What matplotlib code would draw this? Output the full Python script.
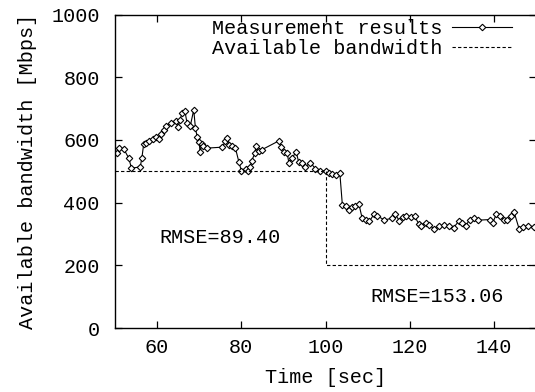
import numpy as np
import matplotlib
matplotlib.use("Agg")
import matplotlib.pyplot as plt

# measurement results (time [sec], bandwidth [Mbps])
t_meas = [50.4, 51.0, 52.1, 53.3, 53.9, 56.0, 56.4, 56.8, 57.4, 58.0,
          59.0, 59.8, 60.4, 61.0, 61.6, 62.0, 63.2, 64.4, 65.0, 65.4,
          66.0, 66.6, 67.1, 67.9, 68.7, 69.1, 69.5, 70.0, 70.2, 70.6,
          71.0, 71.8, 75.5, 76.2, 76.6, 77.0, 77.8, 78.6, 79.4, 80.0,
          81.0, 81.7, 82.1, 82.5, 83.2, 83.5, 84.1, 84.9, 88.9, 89.5,
          90.1, 90.9, 91.3, 92.1, 93.0, 93.6, 94.4, 95.2, 96.4, 97.6,
          98.8, 100.0, 100.8, 101.6, 102.4, 103.4, 104.0, 104.8, 105.5, 106.2,
          107.1, 107.9, 108.7, 109.6, 110.4, 111.5, 112.3, 114.0, 115.8, 116.5,
          117.5, 118.4, 119.2, 120.2, 121.2, 122.1, 122.6, 123.8, 124.6, 125.8,
          127.0, 128.2, 129.4, 130.4, 131.6, 132.5, 133.3, 134.2, 135.3, 136.1,
          139.1, 139.7, 140.6, 141.4, 142.3, 143.1, 144.1, 144.8, 146.0, 146.9,
          148.2, 149.4]
bw_meas = [558, 574, 571, 541, 510, 514, 544, 586, 590, 597,
           604, 609, 604, 619, 633, 645, 654, 662, 640, 665,
           686, 693, 654, 646, 696, 638, 611, 593, 560, 587,
           580, 574, 577, 596, 606, 585, 582, 574, 531, 502,
           508, 502, 515, 534, 558, 580, 565, 569, 597, 576,
           563, 558, 526, 542, 563, 531, 526, 513, 528, 508,
           502, 502, 496, 492, 488, 494, 392, 389, 376, 385,
           390, 397, 350, 345, 340, 363, 357, 345, 350, 364,
           343, 355, 356, 354, 356, 333, 326, 335, 330, 315,
           324, 329, 325, 320, 340, 335, 326, 345, 350, 344,
           346, 336, 364, 358, 346, 345, 358, 369, 315, 322,
           326, 323]

# available bandwidth (step)
t_avail = [50, 100, 100, 150]
bw_avail = [500, 500, 200, 200]

rmse_labels = ["RMSE=89.40", "RMSE=153.06"]
rmse_pos = [(74.9, 290), (126.4, 99)]

plt.rcParams['font.family'] = ['Liberation Mono', 'DejaVu Sans Mono']
fs = 14.5

fig = plt.figure(figsize=(5.35, 3.92), dpi=100)
ax = fig.add_axes([115/535, 1-328/392, 1.002-115/535, (328-14.6)/392])

ax.plot(t_meas, bw_meas, color='black', lw=0.8, marker='D', ms=3.3,
        mfc='white', mec='black', mew=0.8, label='Measurement results')
ax.plot(t_avail, bw_avail, color='black', lw=0.8, dashes=(3, 2),
        label='Available bandwidth')

for txt, (x, y) in zip(rmse_labels, rmse_pos):
    ax.text(x, y, txt, ha='center', va='center', fontsize=fs)

ax.set_xlim(50, 150)
ax.set_ylim(0, 1000)
ax.set_xticks([60, 80, 100, 120, 140])
ax.set_yticks([0, 200, 400, 600, 800, 1000])
ax.tick_params(direction='in', length=5, width=0.9, top=True, right=True,
               labelsize=fs)
ax.tick_params(axis='x', pad=7)
ax.tick_params(axis='y', pad=11)
for s in ax.spines.values():
    s.set_linewidth(1.0)

ax.set_xlabel('Time [sec]', fontsize=fs, labelpad=8)
ax.set_ylabel('Available bandwidth [Mbps]', fontsize=fs, labelpad=10)

ax.legend(loc='upper right', bbox_to_anchor=(0.953, 1.0), frameon=False,
          fontsize=fs, markerfirst=False, handlelength=3.0,
          handletextpad=0.45, borderaxespad=0.0, borderpad=0.2,
          labelspacing=0.05)

fig.savefig('out.png', dpi=100)
